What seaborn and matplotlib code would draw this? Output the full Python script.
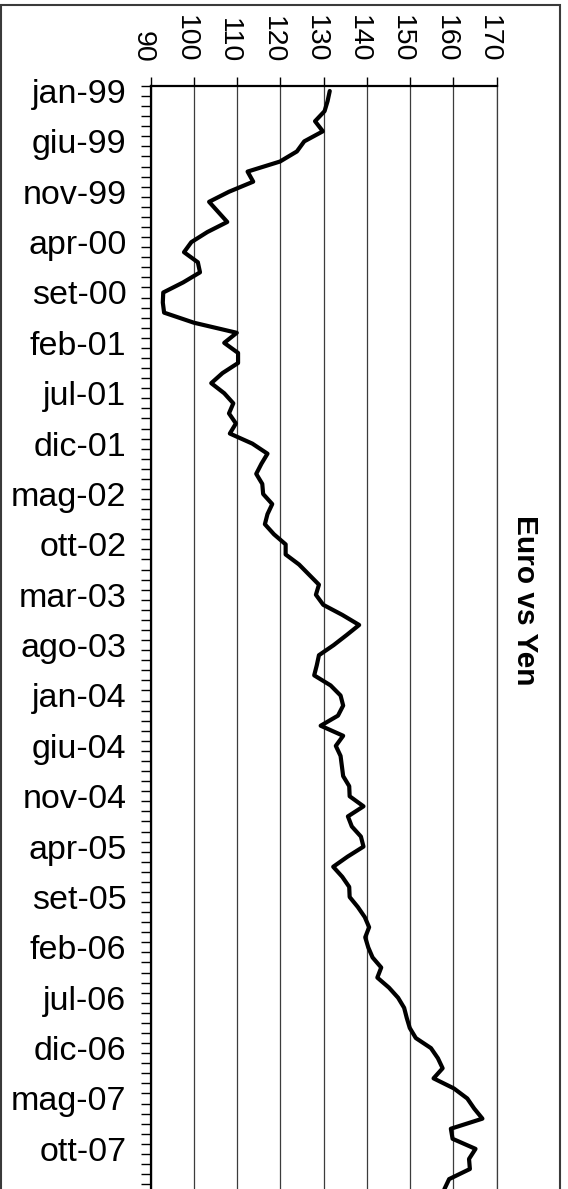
import numpy as np
import pandas as pd
import matplotlib
matplotlib.use("Agg")
import matplotlib.pyplot as plt
import matplotlib.transforms as mtransforms
from matplotlib.patches import Rectangle
import seaborn as sns

# Monthly EUR/JPY exchange rate, jan-99 .. feb-08
month_names = ["jan", "feb", "mar", "apr", "mag", "giu",
               "jul", "ago", "set", "ott", "nov", "dic"]
start_year = 1999

eur_jpy = [
    131.4, 130.9, 130.2, 128.0, 129.8, 125.5, 123.8, 119.9, 112.4, 113.7, 108.1, 103.5,  # 1999
    105.6, 107.7, 103.1, 99.4, 97.7, 100.9, 101.4, 97.5, 92.9, 92.8, 93.1, 100.0,        # 2000
    109.9, 107.0, 110.2, 110.2, 106.6, 104.0, 107.0, 109.1, 108.1, 109.7, 108.3, 113.5,  # 2001
    117.0, 115.6, 114.4, 115.8, 116.0, 118.1, 117.0, 116.4, 118.5, 121.2, 121.2, 124.3,  # 2002
    126.6, 128.9, 128.2, 129.9, 134.3, 138.2, 135.3, 132.3, 128.9, 128.4, 127.8, 131.6,  # 2003
    133.9, 134.5, 133.3, 129.3, 134.5, 132.8, 133.9, 134.2, 134.5, 135.9, 136.0, 139.2,  # 2004
    135.6, 136.5, 138.6, 139.2, 135.5, 132.2, 134.3, 135.9, 136.0, 137.9, 139.5, 140.5,  # 2005
    139.6, 140.3, 141.3, 143.3, 142.4, 145.1, 147.2, 148.6, 149.2, 149.9, 151.3, 154.8,  # 2006
    156.4, 157.5, 155.4, 160.1, 163.2, 164.8, 166.7, 159.4, 159.8, 165.1, 163.6, 163.8,  # 2007
    159.0, 157.9,                                                                        # 2008
]

value_ticks = [90, 100, 110, 120, 130, 140, 150, 160, 170]
label_step = 5
last_label = 105
title = "Euro vs Yen"

months = [f"{month_names[i % 12]}-{(start_year + i // 12) % 100:02d}"
          for i in range(len(eur_jpy))]
df = pd.DataFrame({"month": months, "pos": np.arange(len(eur_jpy)), "rate": eur_jpy})

sns.set_theme(style="white")
plt.rcParams["font.family"] = ["Liberation Sans", "DejaVu Sans"]

W, H = 568, 1189
fig = plt.figure(figsize=(W / 100, H / 100), dpi=100)

y_top, y_bottom = -0.5, 112.0
px_per_month = 10.075
ax_left, ax_right, ax_top_px = 150.7, 496.7, 85.96
ax_h = (y_bottom - y_top) * px_per_month
ax = fig.add_axes([ax_left / W, 1 - (ax_top_px + ax_h) / H,
                   (ax_right - ax_left) / W, ax_h / H])

sns.lineplot(data=df, x="rate", y="pos", orient="y", sort=False, estimator=None,
             color="black", linewidth=3.0, ax=ax)

ax.set_xlim(value_ticks[0], value_ticks[-1])
ax.set_ylim(y_bottom, y_top)
ax.set_xlabel("")
ax.set_ylabel("")

# value axis on top, ticks only; labels drawn rotated below
ax.xaxis.tick_top()
ax.set_xticks(value_ticks)
ax.tick_params(axis="x", which="major", top=True, bottom=False, labeltop=False,
               labelbottom=False, direction="out", length=6.5, width=1.0, color="black")
ax.grid(axis="x", color="#3c3c3c", linewidth=0.9)
ax.grid(axis="y", visible=False)

# category axis: month ticks between categories, labels every five months
label_pos = list(range(0, last_label + 1, label_step))
ax.set_yticks(label_pos)
ax.set_yticklabels([months[p] for p in label_pos])
ax.set_yticks(np.arange(-0.5, y_bottom, 1.0), minor=True)
ax.tick_params(axis="y", which="major", left=True, length=0, pad=17.5,
               labelsize=24.5, labelcolor="black")
ax.tick_params(axis="y", which="minor", left=True, direction="out",
               length=7.2, width=1.0, color="black")

for side in ["left", "top"]:
    ax.spines[side].set_visible(True)
    ax.spines[side].set_color("black")
    ax.spines[side].set_linewidth(1.6)
ax.spines["right"].set_visible(True)
ax.spines["right"].set_color("#3c3c3c")
ax.spines["right"].set_linewidth(0.9)
ax.spines["bottom"].set_visible(False)

# rotated value labels above the plot
lab_tr = mtransforms.blended_transform_factory(ax.transData, ax.transAxes) + \
    mtransforms.ScaledTranslation(-15 / 100, 23 / 100, fig.dpi_scale_trans)
for v in value_ticks:
    ax.text(v, 1.0, str(v), transform=lab_tr, rotation=-90, rotation_mode="anchor",
            ha="right", va="baseline", fontsize=20.5, color="black", clip_on=False)

fig.text(525 / W, 1 - 600 / H, title, rotation=-90, ha="center", va="center",
         fontsize=21.5, fontweight="bold", color="black")

# chart area border
fig.add_artist(Rectangle((1 / W, -0.05), (560 - 1) / W, 1.05 - 4.5 / H,
                         transform=fig.transFigure, fill=False,
                         edgecolor="#3a3a3a", linewidth=1.5, clip_on=False))

fig.savefig("out.png", dpi=100, facecolor="white")
